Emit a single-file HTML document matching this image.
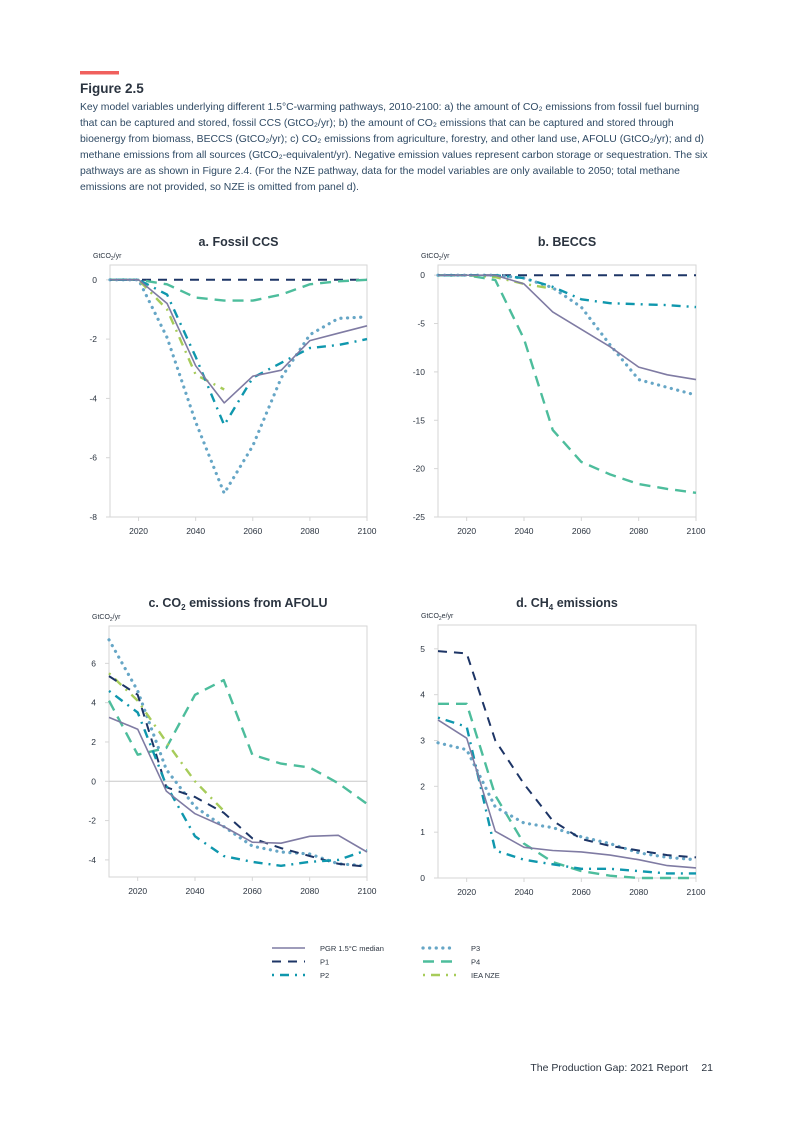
<!DOCTYPE html>
<html><head><meta charset="utf-8">
<style>
html,body{margin:0;padding:0;background:#fff;}
body{width:793px;height:1122px;position:relative;overflow:hidden;font-family:"Liberation Sans",sans-serif;}
svg{position:absolute;left:0;top:0;}
</style></head>
<body>
<svg id="pg" width="793" height="1122" viewBox="0 0 793 1122">
<rect x="80" y="71" width="39" height="3.5" fill="#f0605d"/>
<text x="80" y="93" font-size="13.5" font-weight="bold" fill="#2b3440">Figure 2.5</text>
<g font-size="10.4" fill="#2f4a64">
<text x="80" y="110">Key model variables underlying different 1.5°C-warming pathways, 2010-2100: a) the amount of CO₂ emissions from fossil fuel burning</text>
<text x="80" y="126">that can be captured and stored, fossil CCS (GtCO₂/yr); b) the amount of CO₂ emissions that can be captured and stored through</text>
<text x="80" y="142">bioenergy from biomass, BECCS (GtCO₂/yr); c) CO₂ emissions from agriculture, forestry, and other land use, AFOLU (GtCO₂/yr); and d)</text>
<text x="80" y="158">methane emissions from all sources (GtCO₂-equivalent/yr). Negative emission values represent carbon storage or sequestration. The six</text>
<text x="80" y="174">pathways are as shown in Figure 2.4. (For the NZE pathway, data for the model variables are only available to 2050; total methane</text>
<text x="80" y="190">emissions are not provided, so NZE is omitted from panel d).</text>
</g>
<g id="charts"></g>
<g id="legend" font-size="7.5" fill="#2b3440"></g>
<text x="688" y="1071" text-anchor="end" font-size="10.5" fill="#2b3440">The Production Gap: 2021 Report</text>
<text x="713" y="1071" text-anchor="end" font-size="10.5" fill="#2b3440">21</text>
</svg>
<script>
const years=[2010,2020,2030,2040,2050,2060,2070,2080,2090,2100];
const nzeYears=[2010,2020,2030,2040,2050];
// panel a: fossil CCS
const aMedian=[0,0,-0.8,-2.9,-4.15,-3.25,-3.05,-2.05,-1.8,-1.55];
const aP1=[0,0,0,0,0,0,0,0,0,0];
const aP2=[0,0,-0.5,-2.6,-4.9,-3.3,-2.8,-2.3,-2.2,-2.0];
const aP3=[0,0,-1.95,-4.8,-7.2,-5.6,-3.3,-1.85,-1.3,-1.25];
const aP4=[0,0,-0.15,-0.6,-0.7,-0.7,-0.5,-0.15,-0.05,0];
const aNZE=[0,0,-1.0,-3.2,-3.7];
const aTicks=[0,-2,-4,-6,-8];
// panel b: BECCS
const bMedian=[0,0,0,-0.9,-3.8,-5.6,-7.4,-9.5,-10.3,-10.8];
const bP1=[0,0,0,0,0,0,0,0,0,0];
const bP2=[0,0,0,-0.3,-1.2,-2.5,-2.9,-3.0,-3.1,-3.3];
const bP3=[0,0,0,-0.3,-1.3,-3.3,-7.2,-10.8,-11.6,-12.4];
const bP4=[0,0,-0.5,-6.6,-16,-19.3,-20.6,-21.6,-22.1,-22.5];
const bNZE=[0,0,-0.2,-0.9,-1.4];
const bTicks=[0,-5,-10,-15,-20,-25];
// panel c: AFOLU
const cMedian=[3.25,2.65,-0.5,-1.65,-2.3,-3.1,-3.15,-2.8,-2.75,-3.6];
const cP1=[5.35,4.4,-0.3,-0.8,-1.6,-2.9,-3.4,-3.8,-4.2,-4.35];
const cP2=[4.6,3.5,-0.2,-2.8,-3.8,-4.1,-4.3,-4.1,-4.0,-3.5];
const cP3=[7.2,4.6,0.6,-1.3,-2.3,-3.3,-3.6,-3.7,-4.2,-4.3];
const cP4=[4.1,1.35,1.7,4.4,5.15,1.35,0.9,0.7,-0.1,-1.15];
const cNZE=[5.5,4.1,2.0,0.0,-1.5];
const cTicks=[6,4,2,0,-2,-4];
// panel d: CH4
const dMedian=[3.45,3.05,1.02,0.67,0.6,0.57,0.5,0.4,0.27,0.22];
const dP1=[4.95,4.9,3.0,2.05,1.25,0.85,0.7,0.6,0.5,0.45];
const dP2=[3.5,3.3,0.6,0.4,0.3,0.2,0.2,0.15,0.1,0.1];
const dP3=[2.95,2.8,1.55,1.2,1.1,0.9,0.75,0.55,0.45,0.4];
const dP4=[3.8,3.8,1.8,0.75,0.35,0.15,0.05,0,0,0];
const dTicks=[0,1,2,3,4,5];
const xTicks=[2020,2040,2060,2080,2100];

const styles={
 median:{c:'#7f7ba3',w:1.6,d:''},
 p1:{c:'#1d3566',w:2,d:'9,7'},
 p2:{c:'#0f97ad',w:2.4,d:'2,6,9,6'},
 p3:{c:'#66a6c6',w:3.2,d:'0.1,6.5',cap:'round'},
 p4:{c:'#4dbd9c',w:2.4,d:'11,7'},
 nze:{c:'#a7cc5a',w:2.4,d:'2,6,9,6'}
};
const NS='http://www.w3.org/2000/svg';
const root=document.getElementById('charts');
function mk(tag,attrs,parent){const e=document.createElementNS(NS,tag);for(const k in attrs)e.setAttribute(k,attrs[k]);parent.appendChild(e);return e;}

function panel(o){
 const g=mk('g',{},root);
 
 
 const xs=v=>o.x0+(v-2010)/90*(o.x1-o.x0);
 const ys=v=>o.y0+(o.yMax-v)/(o.yMax-o.yMin)*(o.y1-o.y0);
 const fr=mk('rect',{x:o.x0,y:o.y0,width:o.x1-o.x0,height:o.y1-o.y0,fill:'none',stroke:'#d6d6d6','stroke-width':1},g);
 
 
 if(o.zero){const z=mk('line',{x1:o.x0,x2:o.x1,y1:ys(0),y2:ys(0),stroke:'#c8c8c8','stroke-width':1},g);
  
  }
 const t=mk('text',{x:(o.x0+o.x1)/2,y:o.titleY,'text-anchor':'middle','font-size':12.5,'font-weight':'bold',fill:'#2b3440'},g);
 t.innerHTML=o.title;
 
 
 const u=mk('text',{x:o.x0-17,y:o.y0-7,'font-size':7,fill:'#2b3440'},g);
 u.innerHTML=o.unit;
 
 
 o.yt.forEach(v=>{const e=mk('text',{x:o.x0-13,y:ys(v)+3,'text-anchor':'end','font-size':8.5,fill:'#2b3440'},g);e.textContent=v;
  
  
  const tk=mk('line',{x1:o.x0-4,x2:o.x0,y1:ys(v),y2:ys(v),stroke:'#d6d6d6'},g);
  
  });
 xTicks.forEach(v=>{const e=mk('text',{x:xs(v),y:o.y1+17,'text-anchor':'middle','font-size':8.5,fill:'#2b3440'},g);e.textContent=v;
  
  
  const tk=mk('line',{x1:xs(v),x2:xs(v),y1:o.y1,y2:o.y1+4,stroke:'#d6d6d6'},g);
  
  });
 o.series.forEach(s=>{const st=styles[s.k];const yr=s.yrs||years;
  const pts=s.v.map((v,i)=>xs(yr[i]).toFixed(1)+','+ys(v).toFixed(1)).join(' ');
  const p=mk('polyline',{points:pts,fill:'none',stroke:st.c,'stroke-width':st.w,'stroke-dasharray':st.d,'stroke-linecap':st.cap||'butt','stroke-linejoin':'round'},g);
  
  });
}
panel({name:'panel-a-fossil-ccs',title:'a. Fossil CCS',unit:'GtCO<tspan font-size="5" dy="2">2</tspan><tspan dy="-2">/yr</tspan>',x0:110,x1:367,y0:265,y1:517,yMax:0.5,yMin:-8,titleY:246,yt:aTicks,
 series:[{k:'p1',v:aP1},{k:'p4',v:aP4},{k:'p3',v:aP3},{k:'nze',v:aNZE,yrs:nzeYears},{k:'p2',v:aP2},{k:'median',v:aMedian}]});
panel({name:'panel-b-beccs',title:'b. BECCS',unit:'GtCO<tspan font-size="5" dy="2">2</tspan><tspan dy="-2">/yr</tspan>',x0:438,x1:696,y0:265,y1:517,yMax:1.05,yMin:-25,titleY:246,yt:bTicks,
 series:[{k:'p1',v:bP1},{k:'p4',v:bP4},{k:'p3',v:bP3},{k:'nze',v:bNZE,yrs:nzeYears},{k:'p2',v:bP2},{k:'median',v:bMedian}]});
panel({name:'panel-c-afolu',title:'c. CO<tspan font-size="8" dy="3">2</tspan><tspan dy="-3"> emissions from AFOLU</tspan>',unit:'GtCO<tspan font-size="5" dy="2">2</tspan><tspan dy="-2">/yr</tspan>',x0:109,x1:367,y0:626,y1:877,yMax:7.9,yMin:-4.87,titleY:607,yt:cTicks,zero:true,
 series:[{k:'p4',v:cP4},{k:'p3',v:cP3},{k:'nze',v:cNZE,yrs:nzeYears},{k:'p1',v:cP1},{k:'p2',v:cP2},{k:'median',v:cMedian}]});
panel({name:'panel-d-ch4',title:'d. CH<tspan font-size="8" dy="3">4</tspan><tspan dy="-3"> emissions</tspan>',unit:'GtCO<tspan font-size="5" dy="2">2</tspan><tspan dy="-2">e/yr</tspan>',x0:438,x1:696,y0:625,y1:878,yMax:5.52,yMin:0,titleY:607,yt:dTicks,
 series:[{k:'p4',v:dP4},{k:'p3',v:dP3},{k:'p1',v:dP1},{k:'p2',v:dP2},{k:'median',v:dMedian}]});

const legendKeys=['median','p1','p2','p3','p4','nze'];
const legendLabels=['PGR 1.5°C median','P1','P2','P3','P4','IEA NZE'];
const lg=document.getElementById('legend');
legendKeys.forEach((k,i)=>{const col=Math.floor(i/3),row=i%3;const x=272+col*151,y=948+row*13.5;const st=styles[k];
 const g=mk('g',{},lg);
 
 
 mk('line',{x1:x,x2:x+33,y1:y,y2:y,stroke:st.c,'stroke-width':st.w,'stroke-dasharray':st.d,'stroke-linecap':st.cap||'butt'},g);
 const t=mk('text',{x:x+48,y:y+3},g);t.textContent=legendLabels[i];});
</script>
</body></html>
